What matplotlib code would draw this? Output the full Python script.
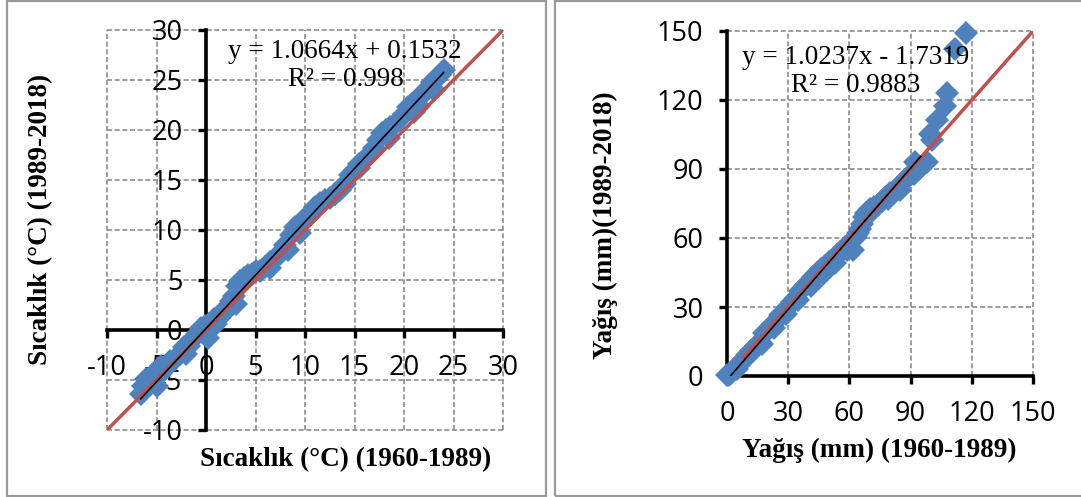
import matplotlib
matplotlib.use("Agg")
import matplotlib.pyplot as plt
from matplotlib.patches import Rectangle

# Temperature panel (1960-1989 vs 1989-2018)
temp_x = [-6.6, -6.4, -6.1, -5.7, -5.3, -4.8, -4.5, -4.0, -3.6, -3.1, -2.6, -2.2,
          -1.7, -1.3, -0.9, -0.5, -0.1, 0.2, 0.3, 0.8, 1.3, 1.7, 2.1, 2.5, 2.8,
          3.1, 3.4, 3.8, 4.2, 4.6, 5.0, 5.5, 6.0, 6.5, 7.0, 7.5, 8.0, 8.3, 8.6,
          9.0, 9.5, 10.0, 10.5, 11.0, 11.5, 12.0, 12.5, 13.0, 13.5, 14.0, 14.5,
          15.0, 15.5, 16.0, 16.5, 17.0, 17.4, 17.8, 18.2, 18.6, 19.0, 19.5, 20.0,
          20.4, 20.8, 21.0, 21.2, 21.6, 22.0, 22.4, 22.8, 23.0, 23.2, 23.6, 24.0,
          -5.0, -2.0, 1.0, 3.0, 6.5, 9.5, 13.0, 15.5, 18.5, 21.5]
temp_y = [-6.4, -5.6, -4.9, -5.2, -4.3, -4.6, -3.6, -3.8, -3.1, -2.9, -2.4, -1.7,
          -1.6, -0.9, -0.4, 0.2, 0.4, -0.8, 0.6, 1.1, 1.2, 1.9, 2.0, 2.9, 3.4,
          4.4, 4.9, 5.2, 5.5, 5.6, 5.9, 5.9, 6.3, 6.8, 7.2, 7.6, 8.5, 8.0, 9.5,
          10.3, 10.6, 11.2, 11.5, 12.3, 12.7, 13.0, 13.2, 13.6, 14.0, 14.6, 15.5,
          16.0, 16.6, 17.0, 17.5, 18.2, 19.0, 19.7, 20.0, 20.3, 20.5, 21.0, 21.6,
          22.3, 22.6, 21.8, 23.0, 23.3, 23.7, 24.2, 24.8, 24.0, 25.1, 25.5, 26.0,
          -5.6, -2.4, 0.6, 2.6, 6.2, 9.7, 13.6, 16.2, 19.2, 22.4]
temp_fit = (1.0664, 0.1532)
temp_fit_range = [-6.6, 24.0]
temp_ticks = [-10, -5, 0, 5, 10, 15, 20, 25, 30]

# Precipitation panel
rain_x = [0, 1, 2, 4, 6, 8, 10, 12, 14, 16, 18, 20, 22, 24, 26, 28, 30, 32, 34,
          36, 38, 40, 42, 44, 46, 48, 50, 52, 54, 56, 58, 60, 62, 63, 64, 65, 66,
          67, 68, 70, 72, 74, 76, 78, 80, 82, 84, 86, 88, 90, 91.5, 92, 94, 98,
          99.5, 100.5, 103, 107, 108, 112, 117,
          5, 11, 17, 23, 29, 35, 41, 47, 53, 59, 69, 79, 85]
rain_y = [0.3, 0.5, 1.5, 3.5, 5, 7, 9, 11, 13, 15, 18.5, 20, 22, 24, 26.5, 28, 30,
          32, 34, 37, 39, 41, 43, 45, 46.5, 48, 49.5, 51, 52.5, 54, 56, 57.5, 55,
          60.5, 62, 64, 66, 69, 71, 72.5, 73.5, 74.5, 76, 78, 79.5, 80, 82, 84,
          86, 88, 88, 93, 90, 93, 105, 102.5, 111.5, 117.5, 123, 142, 149,
          3, 9, 14, 21, 27, 33, 39, 44.5, 49, 55, 70, 77, 81]
rain_fit = (1.0237, -1.7319)
rain_fit_range = [1.7, 95.0]
rain_ticks = [0, 30, 60, 90, 120, 150]

W, H = 1081, 497
BLUE = "#4F81BD"
RED = "#C0504D"
GRID = "#8C8C8C"

plt.rcParams["font.family"] = ["Open Sans", "DejaVu Sans"]
plt.rcParams["axes.unicode_minus"] = False

fig = plt.figure(figsize=(W / 100, H / 100), dpi=100)


def px_box(x0, y0, x1, y1):
    return [x0 / W, 1 - y1 / H, (x1 - x0) / W, (y1 - y0) / H]


def style_axes(ax, ticks, lim):
    ax.set_xlim(*lim)
    ax.set_ylim(*lim)
    ax.set_xticks(ticks)
    ax.set_yticks(ticks)
    for side in ("top", "right"):
        ax.spines[side].set_visible(False)
    for side in ("left", "bottom"):
        ax.spines[side].set_position(("data", 0))
        ax.spines[side].set_linewidth(2.6)
    ax.tick_params(direction="out", length=6, width=2.4, pad=11,
                   labelsize=19.5, colors="black")
    ax.grid(True, color=GRID, linestyle=(0, (3, 1.6)), linewidth=1.2)
    for line in ax.xaxis.get_gridlines() + ax.yaxis.get_gridlines():
        line.set_clip_on(False)
    ax.set_axisbelow(True)
    ax.patch.set_visible(False)


serif_bold = dict(family="Liberation Serif", fontweight="bold", fontsize=19.5)
serif = dict(family="Liberation Serif", fontsize=19.5)

# left panel
ax1 = fig.add_axes(px_box(107, 30, 503, 430))
style_axes(ax1, temp_ticks, (-10, 30))
ax1.plot(temp_x, temp_y, "D", color=BLUE, markersize=12, markeredgewidth=0, zorder=3)
ax1.plot([-10, 30], [-10, 30], color=RED, linewidth=2.5, zorder=4)
ax1.plot(temp_fit_range, [temp_fit[0] * x + temp_fit[1] for x in temp_fit_range],
         color="black", linewidth=1.2, zorder=5)

# right panel
ax2 = fig.add_axes(px_box(727, 31, 1033, 376))
style_axes(ax2, rain_ticks, (0, 150))
ax2.plot(rain_x, rain_y, "D", color=BLUE, markersize=12, markeredgewidth=0, zorder=3,
         clip_on=False)
ax2.plot([8, 150], [8, 150], color=RED, linewidth=2.5, zorder=4)
ax2.plot(rain_fit_range, [rain_fit[0] * x + rain_fit[1] for x in rain_fit_range],
         color="black", linewidth=1.2, zorder=5)

# equations
fig.text(345 / W, 1 - 52 / H, "y = 1.0664x + 0.1532", ha="center", va="center", **serif)
fig.text(346 / W, 1 - 80 / H, "R² = 0.998", ha="center", va="center", **serif)
fig.text(856 / W, 1 - 58 / H, "y = 1.0237x - 1.7319", ha="center", va="center", **serif)
fig.text(856 / W, 1 - 85 / H, "R² = 0.9883", ha="center", va="center", **serif)

# axis titles
fig.text(346 / W, 1 - 460 / H, "Sıcaklık (°C) (1960-1989)", ha="center", va="center", **serif_bold)
fig.text(41 / W, 1 - 219 / H, "Sıcaklık (°C) (1989-2018)", ha="center", va="center",
         rotation=90, **serif_bold)
fig.text(879 / W, 1 - 450 / H, "Yağış (mm) (1960-1989)", ha="center", va="center", **serif_bold)
fig.text(605 / W, 1 - 225 / H, "Yağış (mm)(1989-2018)", ha="center", va="center",
         rotation=90, **serif_bold)

# panel frames
for x0, x1 in [(7, 546), (555, 1090)]:
    fig.add_artist(Rectangle((x0 / W, 1 - 496 / H), (x1 - x0) / W, 495 / H,
                             transform=fig.transFigure, fill=False,
                             edgecolor="#9A9A9A", linewidth=1.6))

fig.savefig("out.png", dpi=100)
